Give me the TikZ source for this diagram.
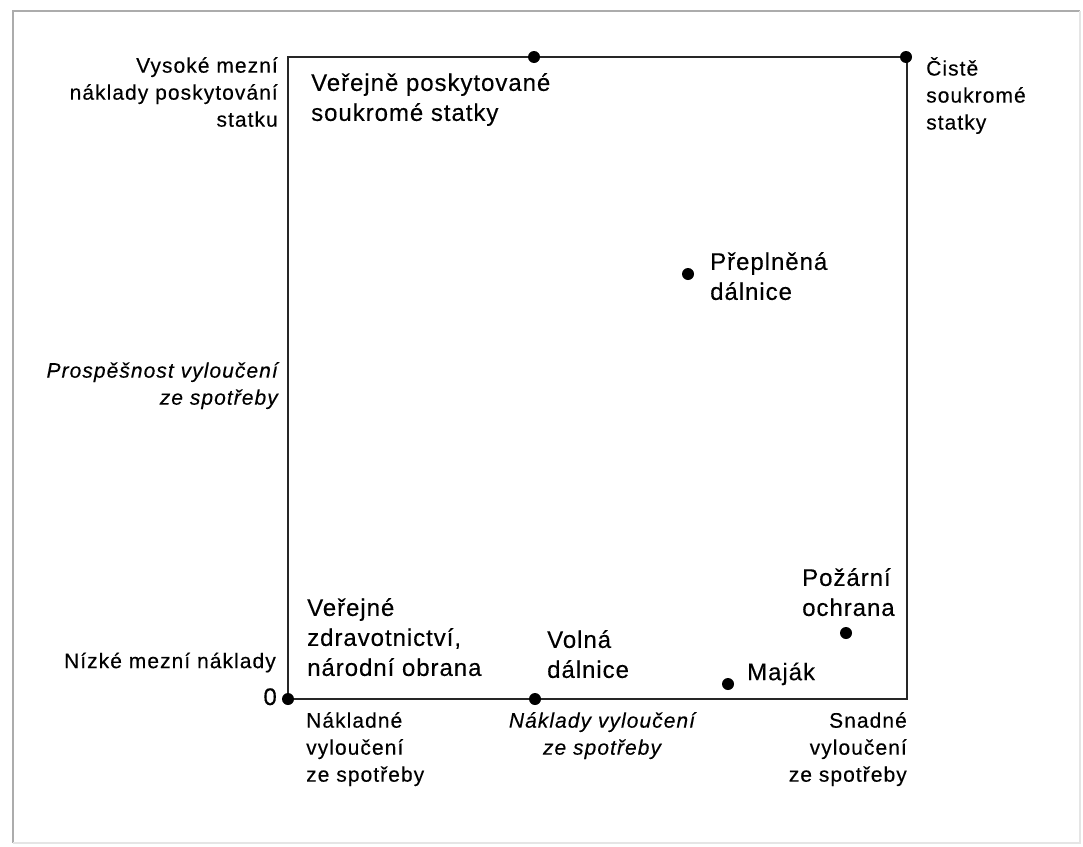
\documentclass[tikz,border=0pt]{standalone}
\usepackage{fontspec}
\setmainfont{Liberation Sans}
\newfontfamily\smallf[LetterSpace=5,FakeBold=0.3]{Liberation Sans}
\newfontfamily\bigf[LetterSpace=4,FakeBold=0.3]{Liberation Sans}
\begin{document}
\begin{tikzpicture}[x=1pt,y=-1pt,
  frameline/.style={line width=1.6pt},
  boxline/.style={line width=2.2pt,black!85},
  dot/.style={circle,fill=black,inner sep=0pt,minimum size=12pt},
  lab/.style={inner sep=0pt,font=\smallf\fontsize{21}{27}\selectfont,execute at begin node=\strut},
  biglab/.style={inner sep=0pt,font=\bigf\fontsize{24}{30}\selectfont,execute at begin node=\strut},
]
\useasboundingbox (0,0) rectangle (1083,846);
% outer frame
\coordinate (f1) at (13,843);
\coordinate (f2) at (13,11);
\coordinate (f3) at (1080,11);
\coordinate (f4) at (1080,843);
\draw[frameline,gray!65] (f1) -- (f2) -- (f3);
\draw[frameline,gray!20] (f3) -- (f4) -- (f1);
% box corners
\coordinate (tl) at (288,57);
\coordinate (tr) at (907,57);
\coordinate (br) at (907,699);
\coordinate (bl) at (288,699);
\draw[boxline] (tl) -- (tr) -- (br) -- (bl) -- cycle;
% dots
\node[dot] (dtop) at (534,57) {};
\node[dot] (dtr) at (906,57) {};
\node[dot] (dorig) at (288,699) {};
\node[dot] (dbot) at (535,699) {};
\node[dot] (dhw) at (688,274) {};
\node[dot] (dmaj) at (728,684) {};
\node[dot] (dfire) at (846,633) {};
% left axis labels
\node[lab,anchor=north east,align=right] (vys) at (278,57) {Vysoké mezní\\náklady poskytování\\statku};
\node[lab,anchor=north east,align=right] (prosp) at (278,362) {\itshape Prospěšnost vyloučení\\\itshape ze spotřeby};
\node[lab,anchor=north east,align=right] (niz) at (276,649) {Nízké mezní náklady};
\node[biglab,anchor=east] (zero) at (277,699) {0};
% right top label
\node[lab,anchor=north west,align=left] (cist) at (926,57) {Čistě\\soukromé\\statky};
% bottom labels
\node[lab,anchor=north west,align=left] (nakl) at (306,712) {Nákladné\\vyloučení\\ze spotřeby};
\node[lab,anchor=north,align=center] (naklvy) at (602,712) {\itshape Náklady vyloučení\\\itshape ze spotřeby};
\node[lab,anchor=north east,align=right] (snad) at (907,712) {Snadné\\vyloučení\\ze spotřeby};
% inner labels
\node[biglab,anchor=north west,align=left] (verpos) at (311,73) {Veřejně poskytované\\soukromé statky};
\node[biglab,anchor=north west,align=left] (prep) at (710,252) {Přeplněná\\dálnice};
\node[biglab,anchor=north west,align=left] (verz) at (307,598) {Veřejné\\zdravotnictví,\\národní obrana};
\node[biglab,anchor=north west,align=left] (voln) at (547,630) {Volná\\dálnice};
\node[biglab,anchor=north west,align=left] (maj) at (747,659) {Maják};
\node[biglab,anchor=north west,align=left] (poz) at (802,568) {Požární\\ochrana};
\end{tikzpicture}
\end{document}
